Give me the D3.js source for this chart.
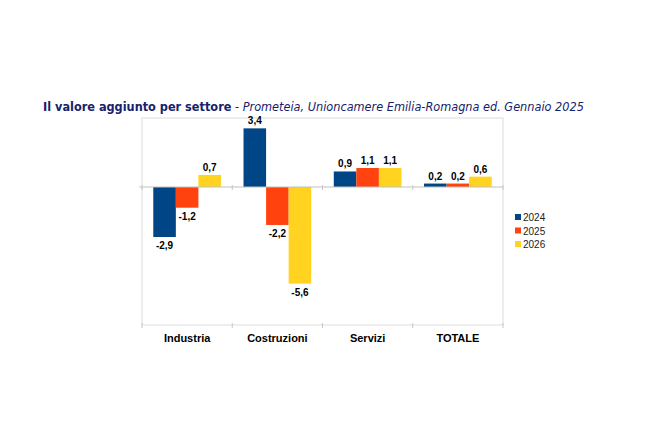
<!DOCTYPE html>
<html>
<head>
<meta charset="utf-8">
<script src="https://cdn.jsdelivr.net/npm/d3@7"></script>
<style>
  body { margin: 0; background: #fff; }
  svg { display: block; }
</style>
</head>
<body>
<div id="chart"></div>
<script>
// data
var categories = ["Industria", "Costruzioni", "Servizi", "TOTALE"];
var years = ["2024", "2025", "2026"];
var values2024 = [-2.9, 3.4, 0.9, 0.2];
var values2025 = [-1.2, -2.2, 1.1, 0.2];
var values2026 = [0.7, -5.6, 1.1, 0.6];
var yDomain = [-8, 4];

var series = [values2024, values2025, values2026];
var colors = ["#004586", "#ff420e", "#ffd320"];

var width = 660, height = 440;
var plot = { left: 142, right: 503, top: 118, bottom: 325 };

var svg = d3.select("#chart").append("svg")
  .attr("width", width)
  .attr("height", height);

var it = d3.formatLocale({ decimal: ",", thousands: ".", grouping: [3], currency: ["", "€"], minus: "-" });
var fmt = it.format(".1f");

// scales
var x0 = d3.scaleBand().domain(categories).range([plot.left, plot.right]).padding(0);
var x1 = d3.scaleBand().domain(years).range([0, x0.bandwidth()]).paddingInner(0).paddingOuter(0.5);
var y = d3.scaleLinear().domain(yDomain).range([plot.bottom, plot.top]);

// plot frame
svg.append("rect")
  .attr("x", plot.left).attr("y", plot.top)
  .attr("width", plot.right - plot.left).attr("height", plot.bottom - plot.top)
  .attr("fill", "none").attr("stroke", "#dcdcdc").attr("stroke-width", 1);

// tick marks at category boundaries (bottom and zero line)
var bounds = categories.map(function(c) { return x0(c); }).concat([plot.right]);
[plot.bottom, y(0)].forEach(function(yy) {
  svg.selectAll(null).data(bounds).enter().append("line")
    .attr("x1", function(d) { return d; }).attr("x2", function(d) { return d; })
    .attr("y1", yy - 2).attr("y2", yy + 3)
    .attr("stroke", "#c8c8c8").attr("stroke-width", 1);
});
svg.append("line")
  .attr("x1", plot.left - 3).attr("x2", plot.left)
  .attr("y1", y(0)).attr("y2", y(0))
  .attr("stroke", "#c8c8c8");

// bars
var groups = svg.selectAll(".grp").data(categories).enter().append("g")
  .attr("class", "grp")
  .attr("transform", function(d) { return "translate(" + x0(d) + ",0)"; });

groups.selectAll("rect")
  .data(function(c, i) { return years.map(function(yr, j) { return { year: yr, value: series[j][i], k: j }; }); })
  .enter().append("rect")
  .attr("x", function(d) { return x1(d.year); })
  .attr("width", x1.bandwidth())
  .attr("y", function(d) { return y(Math.max(0, d.value)); })
  .attr("height", function(d) { return Math.abs(y(d.value) - y(0)); })
  .attr("fill", function(d) { return colors[d.k]; });

// zero line
svg.append("line")
  .attr("x1", plot.left).attr("x2", plot.right)
  .attr("y1", y(0)).attr("y2", y(0))
  .attr("stroke", "#c0c0c0").attr("stroke-width", 1);

// value labels
groups.selectAll("text.val")
  .data(function(c, i) { return years.map(function(yr, j) { return { year: yr, value: series[j][i] }; }); })
  .enter().append("text")
  .attr("class", "val")
  .attr("x", function(d) { return x1(d.year) + x1.bandwidth() / 2; })
  .attr("y", function(d) { return d.value >= 0 ? y(d.value) - 4 : y(d.value) + 12; })
  .attr("text-anchor", "middle")
  .attr("font-family", "Liberation Sans, Arial, sans-serif")
  .attr("font-weight", "bold")
  .attr("font-size", 10)
  .attr("fill", "#000")
  .text(function(d) { return fmt(d.value); });

// category labels
svg.selectAll("text.cat").data(categories).enter().append("text")
  .attr("class", "cat")
  .attr("x", function(d) { return x0(d) + x0.bandwidth() / 2; })
  .attr("y", 342)
  .attr("text-anchor", "middle")
  .attr("font-family", "Liberation Sans, Arial, sans-serif")
  .attr("font-weight", "bold")
  .attr("font-size", 11)
  .attr("fill", "#000")
  .text(function(d) { return d; });

// legend
var legend = svg.append("g").attr("transform", "translate(515,214)");
years.forEach(function(yr, j) {
  legend.append("rect")
    .attr("x", 0).attr("y", j * 13.5)
    .attr("width", 6).attr("height", 6)
    .attr("fill", colors[j]);
  legend.append("text")
    .attr("x", 8).attr("y", j * 13.5 + 7)
    .attr("font-family", "Liberation Sans, Arial, sans-serif")
    .attr("font-size", 10)
    .attr("fill", "#222")
    .text(yr);
});

// title
var title = svg.append("text")
  .attr("x", 43).attr("y", 111)
  .attr("font-family", "DejaVu Sans Condensed, DejaVu Sans, sans-serif")
  .attr("font-size", 14)
  .attr("fill", "#16226b");
title.append("tspan").attr("font-weight", "bold").text("Il valore aggiunto per settore");
title.append("tspan").text(" - ");
title.append("tspan").attr("font-style", "italic").text("Prometeia, Unioncamere Emilia-Romagna ed. Gennaio 2025");
var tw = title.node().getComputedTextLength();
title.attr("font-size", 14 * 541 / tw);
</script>
</body>
</html>
